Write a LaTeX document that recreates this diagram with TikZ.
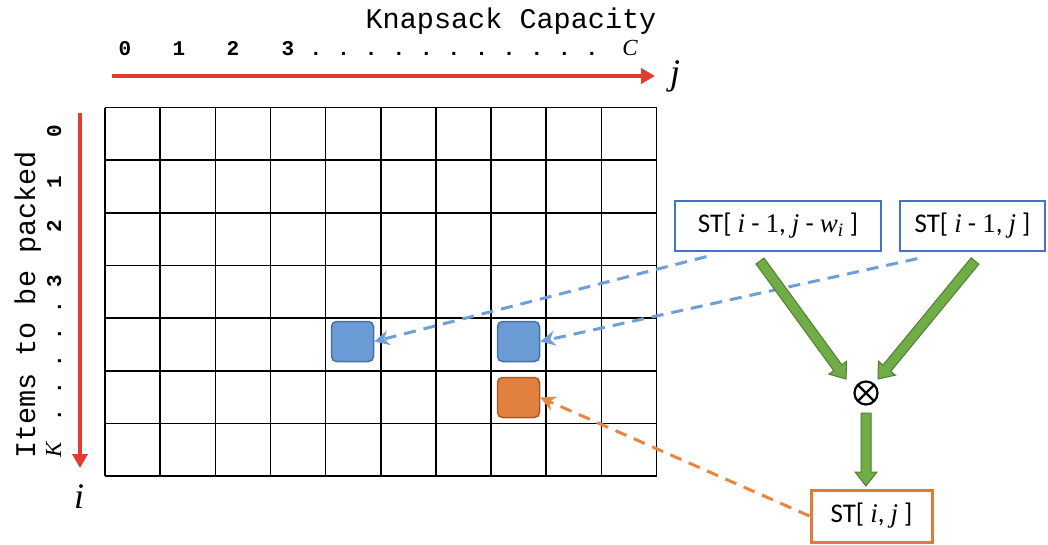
\documentclass[tikz,border=0pt]{standalone}
\usepackage{fontspec}
\setsansfont{Carlito}
\setmonofont{Liberation Mono}
\newfontfamily\varserif{Liberation Serif}
\usetikzlibrary{calc,arrows.meta}

\definecolor{axisred}{HTML}{E53A2F}
\definecolor{markblue}{HTML}{6A9BD4}
\definecolor{markblueedge}{HTML}{45729F}
\definecolor{markorange}{HTML}{E2803F}
\definecolor{markorangeedge}{HTML}{A85A26}
\definecolor{dashblue}{HTML}{6E9FDA}
\definecolor{dashorange}{HTML}{E8853F}
\definecolor{boxblue}{HTML}{4472C4}
\definecolor{boxorange}{HTML}{E07B39}
\definecolor{arrowgreen}{HTML}{70AD47}
\definecolor{arrowgreenedge}{HTML}{4E7F31}

% italic serif variable names
\newcommand{\vn}[1]{{\varserif\itshape #1}}
\newcommand{\vd}[1]{{\varserif #1}}

% block arrow from #1 to #2 (shaft half-width 5pt, head half-width 11pt, head length 14pt)
\newcommand{\fatarrow}[2]{%
  \path ($(#2)!14pt!(#1)$) coordinate (fa-c);
  \filldraw[greenarrow] ($(#1)!5pt!90:(#2)$) -- ($(fa-c)!5pt!90:(#2)$)
    -- ($(fa-c)!11pt!90:(#2)$) -- (#2) -- ($(fa-c)!11pt!-90:(#2)$)
    -- ($(fa-c)!5pt!-90:(#2)$) -- ($(#1)!5pt!-90:(#2)$) -- cycle;}

\begin{document}
\begin{tikzpicture}[x=1pt,y=-1pt,
  gridline/.style={line width=1.6pt, draw=black},
  gridthick/.style={line width=2.4pt, draw=black},
  redaxis/.style={draw=axisred, line width=3.5pt, -{Triangle[length=14pt,width=15pt]}},
  axislabel/.style={font=\ttfamily\fontsize{28.5}{30}\selectfont},
  tick/.style={font=\ttfamily\bfseries\fontsize{21}{23}\selectfont},
  varlabel/.style={font=\varserif\itshape\fontsize{36}{40}\selectfont},
  endlabel/.style={font=\varserif\itshape\fontsize{23}{25}\selectfont},
  cellmark/.style={rounded corners=5pt, line width=1.5pt, minimum width=42pt, minimum height=40pt, inner sep=0pt},
  bluemark/.style={cellmark, fill=markblue, draw=markblueedge},
  orangemark/.style={cellmark, fill=markorange, draw=markorangeedge},
  stbox/.style={draw, font=\sffamily\fontsize{27}{30}\selectfont, minimum height=50pt, inner sep=0pt},
  bluedash/.style={draw=dashblue, line width=3pt, dash pattern=on 12pt off 8pt, -{Stealth[length=15pt,width=15pt]}},
  orangedash/.style={draw=dashorange, line width=3pt, dash pattern=on 12pt off 8pt, -{Stealth[length=15pt,width=15pt]}},
  greenarrow/.style={fill=arrowgreen, draw=arrowgreenedge, line width=1pt, line join=miter}]

\useasboundingbox (0,0) rectangle (1048,544);

% table grid: 10 columns, 7 rows
\foreach \k in {0,...,10}
  \draw[gridline] ({105+55.15*\k},107.5) -- ({105+55.15*\k},476);
\foreach \k in {0,...,7}
  \draw[gridline] (105,{107.5+52.64*\k}) -- (656.5,{107.5+52.64*\k});
\draw[gridthick] (380.75,107.5) -- (380.75,476);
\draw[gridthick] (105,212.8) -- (656.5,212.8);
\draw[gridthick] (105,318.1) -- (656.5,318.1);

% capacity axis
\node[axislabel, anchor=base] (captitle) at (511,28) {Knapsack Capacity};
\foreach \x/\t in {125/0,179/1,233/2,288/3}
  \node[tick, anchor=base] (cap\t) at (\x,55) {\t};
\foreach \k in {0,...,10}
  \node[tick, anchor=base] (capdot\k) at ({316+27.6*\k},55) {.};
\node[endlabel, anchor=base] (capC) at (630,55) {C};
\coordinate (jstart) at (112,76);
\coordinate (jend) at (655,76);
\draw[redaxis] (jstart) -- (jend);
\node[varlabel, anchor=base] (jlabel) at (675,84) {j};

% items axis
\node[axislabel, anchor=base, rotate=90] (itemtitle) at (35,305) {Items to be packed};
\foreach \y/\t in {131/0,182/1,226/2,281/3}
  \node[tick, anchor=base, rotate=90] (item\t) at (61,\y) {\t};
\foreach \k in {0,...,4}
  \node[tick, anchor=base, rotate=90] (itemdot\k) at (61,{307+27*\k}) {.};
\node[endlabel, anchor=base, rotate=90] (itemK) at (61,450) {K};
\coordinate (istart) at (80,113);
\coordinate (iend) at (80,468);
\draw[redaxis] (istart) -- (iend);
\node[varlabel, anchor=base] (ilabel) at (79,508) {i};

% marked cells
\node[bluemark] (sqA) at (352.5,341.5) {};
\node[bluemark] (sqB) at (518.5,341.5) {};
\node[orangemark] (sqC) at (518.5,397.5) {};

% recurrence terms
\node[stbox, draw=boxblue, line width=1.2pt, minimum width=206pt] (stA) at (778,226)
  {ST[ \vn{i} - \vd{1}, \vn{j} - \vn{w}\textsubscript{\vn{i}}\ ]};
\node[stbox, draw=boxblue, line width=1.2pt, minimum width=145pt] (stB) at (972.5,226)
  {ST[ \vn{i} - \vd{1}, \vn{j} ]};
\node[stbox, draw=boxorange, line width=3pt, minimum width=121pt, minimum height=52pt] (stC) at (871.5,516)
  {ST[ \vn{i}, \vn{j} ]};

% combination operator
\node[circle, draw, line width=2.2pt, minimum size=23pt, inner sep=0pt,
  path picture={\draw[line width=2.2pt]
    (path picture bounding box.north west) -- (path picture bounding box.south east)
    (path picture bounding box.north east) -- (path picture bounding box.south west);}]
  (mix) at (866,393) {};

% references into the table
\draw[bluedash] ($(stA.south west)+(32,5)$) -- (sqA.east);
\draw[bluedash] ($(stB.south west)+(18,7)$) -- (sqB.east);
\draw[orangedash] (stC.west) -- (sqC.east);

% data flow
\coordinate (gA1) at (760,261);
\coordinate (gA2) at (846,379);
\coordinate (gB1) at (975,261);
\coordinate (gB2) at (878,379);
\coordinate (gC1) at (866,413);
\coordinate (gC2) at (866,486);
\fatarrow{gA1}{gA2}
\fatarrow{gB1}{gB2}
\fatarrow{gC1}{gC2}

\end{tikzpicture}
\end{document}
